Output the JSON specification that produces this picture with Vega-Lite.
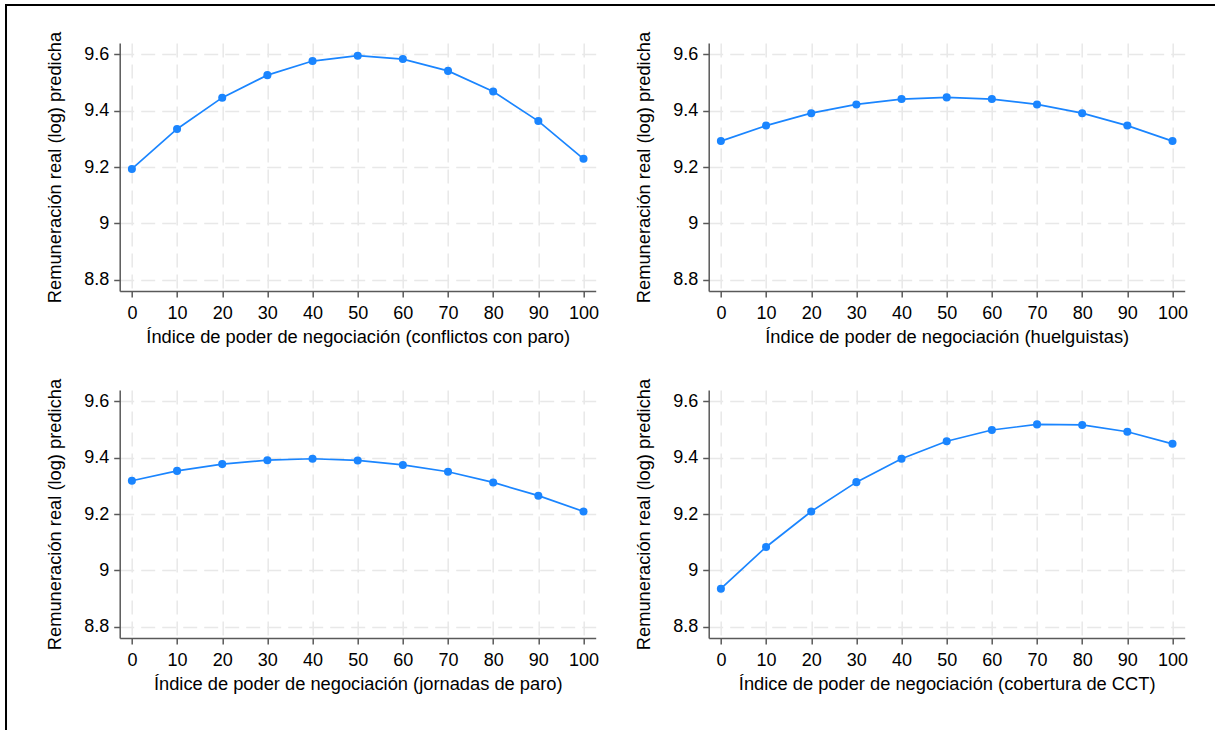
{
  "$schema": "https://vega.github.io/schema/vega-lite/v6.json",
  "background": "white",
  "padding": {"left": 5, "top": 4, "right": 0, "bottom": 0},
  "config": {
    "font": "Liberation Sans",
    "view": {"stroke": null},
    "axis": {
      "labelFont": "Liberation Sans",
      "titleFont": "Liberation Sans",
      "labelFontSize": 18,
      "titleFontSize": 18.3,
      "titleFontWeight": "normal",
      "labelColor": "#000000",
      "titleColor": "#000000",
      "domainColor": "#595959",
      "domainWidth": 1.5,
      "tickColor": "#595959",
      "tickWidth": 1.5,
      "tickSize": 6,
      "grid": true,
      "gridColor": "#e8e8e8",
      "gridWidth": 1.5,
      "gridDash": [14, 7],
      "labelFlush": false,
      "labelOverlap": false
    },
    "axisX": {"labelPadding": 7, "titlePadding": 6},
    "axisY": {"labelPadding": 5, "titlePadding": 19}
  },
  "datasets": {
    "conflictos": [
      {"indice": 0, "pred": 9.193}, {"indice": 10, "pred": 9.335}, {"indice": 20, "pred": 9.446},
      {"indice": 30, "pred": 9.526}, {"indice": 40, "pred": 9.576}, {"indice": 50, "pred": 9.595},
      {"indice": 60, "pred": 9.583}, {"indice": 70, "pred": 9.541}, {"indice": 80, "pred": 9.468},
      {"indice": 90, "pred": 9.363}, {"indice": 100, "pred": 9.229}
    ],
    "huelguistas": [
      {"indice": 0, "pred": 9.292}, {"indice": 10, "pred": 9.347}, {"indice": 20, "pred": 9.391},
      {"indice": 30, "pred": 9.422}, {"indice": 40, "pred": 9.441}, {"indice": 50, "pred": 9.447},
      {"indice": 60, "pred": 9.441}, {"indice": 70, "pred": 9.422}, {"indice": 80, "pred": 9.391},
      {"indice": 90, "pred": 9.347}, {"indice": 100, "pred": 9.292}
    ],
    "jornadas": [
      {"indice": 0, "pred": 9.318}, {"indice": 10, "pred": 9.353}, {"indice": 20, "pred": 9.377},
      {"indice": 30, "pred": 9.391}, {"indice": 40, "pred": 9.396}, {"indice": 50, "pred": 9.390},
      {"indice": 60, "pred": 9.374}, {"indice": 70, "pred": 9.350}, {"indice": 80, "pred": 9.312},
      {"indice": 90, "pred": 9.265}, {"indice": 100, "pred": 9.209}
    ],
    "cct": [
      {"indice": 0, "pred": 8.935}, {"indice": 10, "pred": 9.083}, {"indice": 20, "pred": 9.209},
      {"indice": 30, "pred": 9.313}, {"indice": 40, "pred": 9.396}, {"indice": 50, "pred": 9.458},
      {"indice": 60, "pred": 9.498}, {"indice": 70, "pred": 9.518}, {"indice": 80, "pred": 9.516},
      {"indice": 90, "pred": 9.492}, {"indice": 100, "pred": 9.449}
    ],
    "empty": []
  },
  "bounds": "flush",
  "spacing": 0,
  "hconcat": [
    {
      "width": 0.01,
      "height": 724,
      "data": {"name": "empty"},
      "mark": {"type": "rule"},
      "encoding": {},
      "view": {"stroke": "#000000", "strokeWidth": 2}
    },
    {
      "bounds": "flush",
      "spacing": 37,
      "vconcat": [
        {
          "width": 1208,
          "height": 0.01,
          "data": {"name": "empty"},
          "mark": {"type": "rule"},
          "encoding": {},
          "view": {"stroke": "#000000", "strokeWidth": 2}
        },
        {
          "bounds": "flush",
          "spacing": 111.7,
          "hconcat": [
            {
              "width": 0.01,
              "height": 0.01,
              "data": {"name": "empty"},
              "mark": {"type": "rule"},
              "encoding": {}
            },
            {
              "bounds": "flush",
              "columns": 2,
              "spacing": {"row": 99, "column": 113},
              "concat": [
                {
                  "width": 476, "height": 248,
                  "data": {"name": "conflictos"},
                  "encoding": {
                    "x": {"field": "indice", "type": "quantitative", "scale": {"domain": [-2.7, 102.7], "nice": false, "zero": false},
                          "axis": {"values": [0, 10, 20, 30, 40, 50, 60, 70, 80, 90, 100], "title": "Índice de poder de negociación (conflictos con paro)"}},
                    "y": {"field": "pred", "type": "quantitative", "scale": {"domain": [8.76, 9.64], "nice": false, "zero": false},
                          "axis": {"values": [8.8, 9, 9.2, 9.4, 9.6], "format": ".1~f", "title": "Remuneración real (log) predicha"}}
                  },
                  "layer": [
                    {"mark": {"type": "line", "color": "#1A85FF", "strokeWidth": 1.7}},
                    {"mark": {"type": "point", "filled": true, "opacity": 1, "size": 65, "color": "#1A85FF"}}
                  ]
                },
                {
                  "width": 476, "height": 248,
                  "data": {"name": "huelguistas"},
                  "encoding": {
                    "x": {"field": "indice", "type": "quantitative", "scale": {"domain": [-2.7, 102.7], "nice": false, "zero": false},
                          "axis": {"values": [0, 10, 20, 30, 40, 50, 60, 70, 80, 90, 100], "title": "Índice de poder de negociación (huelguistas)"}},
                    "y": {"field": "pred", "type": "quantitative", "scale": {"domain": [8.76, 9.64], "nice": false, "zero": false},
                          "axis": {"values": [8.8, 9, 9.2, 9.4, 9.6], "format": ".1~f", "title": "Remuneración real (log) predicha"}}
                  },
                  "layer": [
                    {"mark": {"type": "line", "color": "#1A85FF", "strokeWidth": 1.7}},
                    {"mark": {"type": "point", "filled": true, "opacity": 1, "size": 65, "color": "#1A85FF"}}
                  ]
                },
                {
                  "width": 476, "height": 248,
                  "data": {"name": "jornadas"},
                  "encoding": {
                    "x": {"field": "indice", "type": "quantitative", "scale": {"domain": [-2.7, 102.7], "nice": false, "zero": false},
                          "axis": {"values": [0, 10, 20, 30, 40, 50, 60, 70, 80, 90, 100], "title": "Índice de poder de negociación (jornadas de paro)"}},
                    "y": {"field": "pred", "type": "quantitative", "scale": {"domain": [8.76, 9.64], "nice": false, "zero": false},
                          "axis": {"values": [8.8, 9, 9.2, 9.4, 9.6], "format": ".1~f", "title": "Remuneración real (log) predicha"}}
                  },
                  "layer": [
                    {"mark": {"type": "line", "color": "#1A85FF", "strokeWidth": 1.7}},
                    {"mark": {"type": "point", "filled": true, "opacity": 1, "size": 65, "color": "#1A85FF"}}
                  ]
                },
                {
                  "width": 476, "height": 248,
                  "data": {"name": "cct"},
                  "encoding": {
                    "x": {"field": "indice", "type": "quantitative", "scale": {"domain": [-2.7, 102.7], "nice": false, "zero": false},
                          "axis": {"values": [0, 10, 20, 30, 40, 50, 60, 70, 80, 90, 100], "title": "Índice de poder de negociación (cobertura de CCT)"}},
                    "y": {"field": "pred", "type": "quantitative", "scale": {"domain": [8.76, 9.64], "nice": false, "zero": false},
                          "axis": {"values": [8.8, 9, 9.2, 9.4, 9.6], "format": ".1~f", "title": "Remuneración real (log) predicha"}}
                  },
                  "layer": [
                    {"mark": {"type": "line", "color": "#1A85FF", "strokeWidth": 1.7}},
                    {"mark": {"type": "point", "filled": true, "opacity": 1, "size": 65, "color": "#1A85FF"}}
                  ]
                }
              ]
            }
          ]
        }
      ]
    }
  ]
}
